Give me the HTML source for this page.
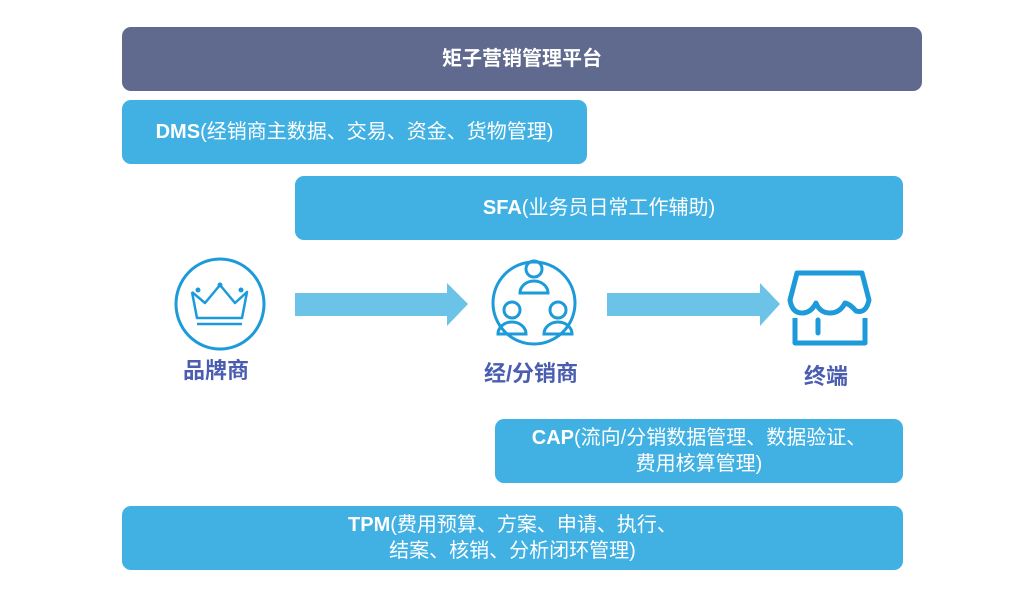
<!DOCTYPE html>
<html><head><meta charset="utf-8"><style>
body{margin:0;width:1020px;height:600px;background:#fff;position:relative;font-family:"Liberation Sans","Noto Sans CJK SC",sans-serif;overflow:hidden}
.b{position:absolute;border-radius:9px;background:#41b1e3;color:#fff;font-size:20px;display:flex;align-items:center;justify-content:center;text-align:center;line-height:26px}
.b b{font-weight:bold}
.l{position:absolute;color:#4a5db0;font-weight:bold;font-size:22px;transform:translateX(-50%);white-space:nowrap}
</style></head><body>
<div class="b" style="left:122px;top:27px;width:800px;height:64px;background:#5f6a8e;font-weight:bold">矩子营销管理平台</div>
<div class="b" style="left:122px;top:100px;width:465px;height:64px"><span><b>DMS</b>(经销商主数据、交易、资金、货物管理)</span></div>
<div class="b" style="left:295px;top:176px;width:608px;height:64px"><span><b>SFA</b>(业务员日常工作辅助)</span></div>
<div class="b" style="left:495px;top:419px;width:408px;height:64px"><span><b>CAP</b>(流向/分销数据管理、数据验证、<br>费用核算管理)</span></div>
<div class="b" style="left:122px;top:506px;width:781px;height:64px"><span><b>TPM</b>(费用预算、方案、申请、执行、<br>结案、核销、分析闭环管理)</span></div>
<svg style="position:absolute;left:0;top:0" width="1020" height="600">
<g fill="#6cc3e8"><polygon points="295,293 447,293 447,283 468,304 447,326 447,316 295,316"/><polygon points="607,293 760,293 760,283 780,304 760,326 760,316 607,316"/></g>
<g fill="none" stroke="#1d9ad9" stroke-width="3">
<ellipse cx="220" cy="304" rx="44" ry="45"/>
<polyline points="192,292 197,318 242,318 247,292 235,303 220,285 205,303 192,292" stroke-width="2.5" stroke-linejoin="round"/>
<line x1="197" y1="324" x2="242" y2="324" stroke-width="2.5"/>
<circle cx="534" cy="303" r="41"/>
<circle cx="534" cy="269" r="8"/><path d="M520,293 a14,12 0 0 1 28,0 z"/>
<circle cx="512" cy="310" r="8"/><path d="M498,334 a14,12 0 0 1 28,0 z"/>
<circle cx="558" cy="310" r="8"/><path d="M544,334 a14,12 0 0 1 28,0 z"/>
<path d="M797,273 L862,273 L869,300 Q866,314 856,311 Q850,304 845,303 Q840,313 830,313 Q820,313 816,303 Q811,313 802,313 Q792,313 790,300 Z" stroke-width="5" stroke-linejoin="round"/>
<path d="M795,318 V343 H865 V318" stroke-width="5" stroke-linejoin="round"/>
<line x1="818" y1="320" x2="818" y2="333" stroke-width="5" stroke-linecap="round"/>
</g>
<g fill="#1d9ad9"><circle cx="198" cy="290" r="2.5"/><circle cx="220" cy="285" r="2.5"/><circle cx="241" cy="290" r="2.5"/></g>
</svg>
<div class="l" style="left:216px;top:353px">品牌商</div>
<div class="l" style="left:531px;top:356px">经/分销商</div>
<div class="l" style="left:826px;top:359px">终端</div>
</body></html>
